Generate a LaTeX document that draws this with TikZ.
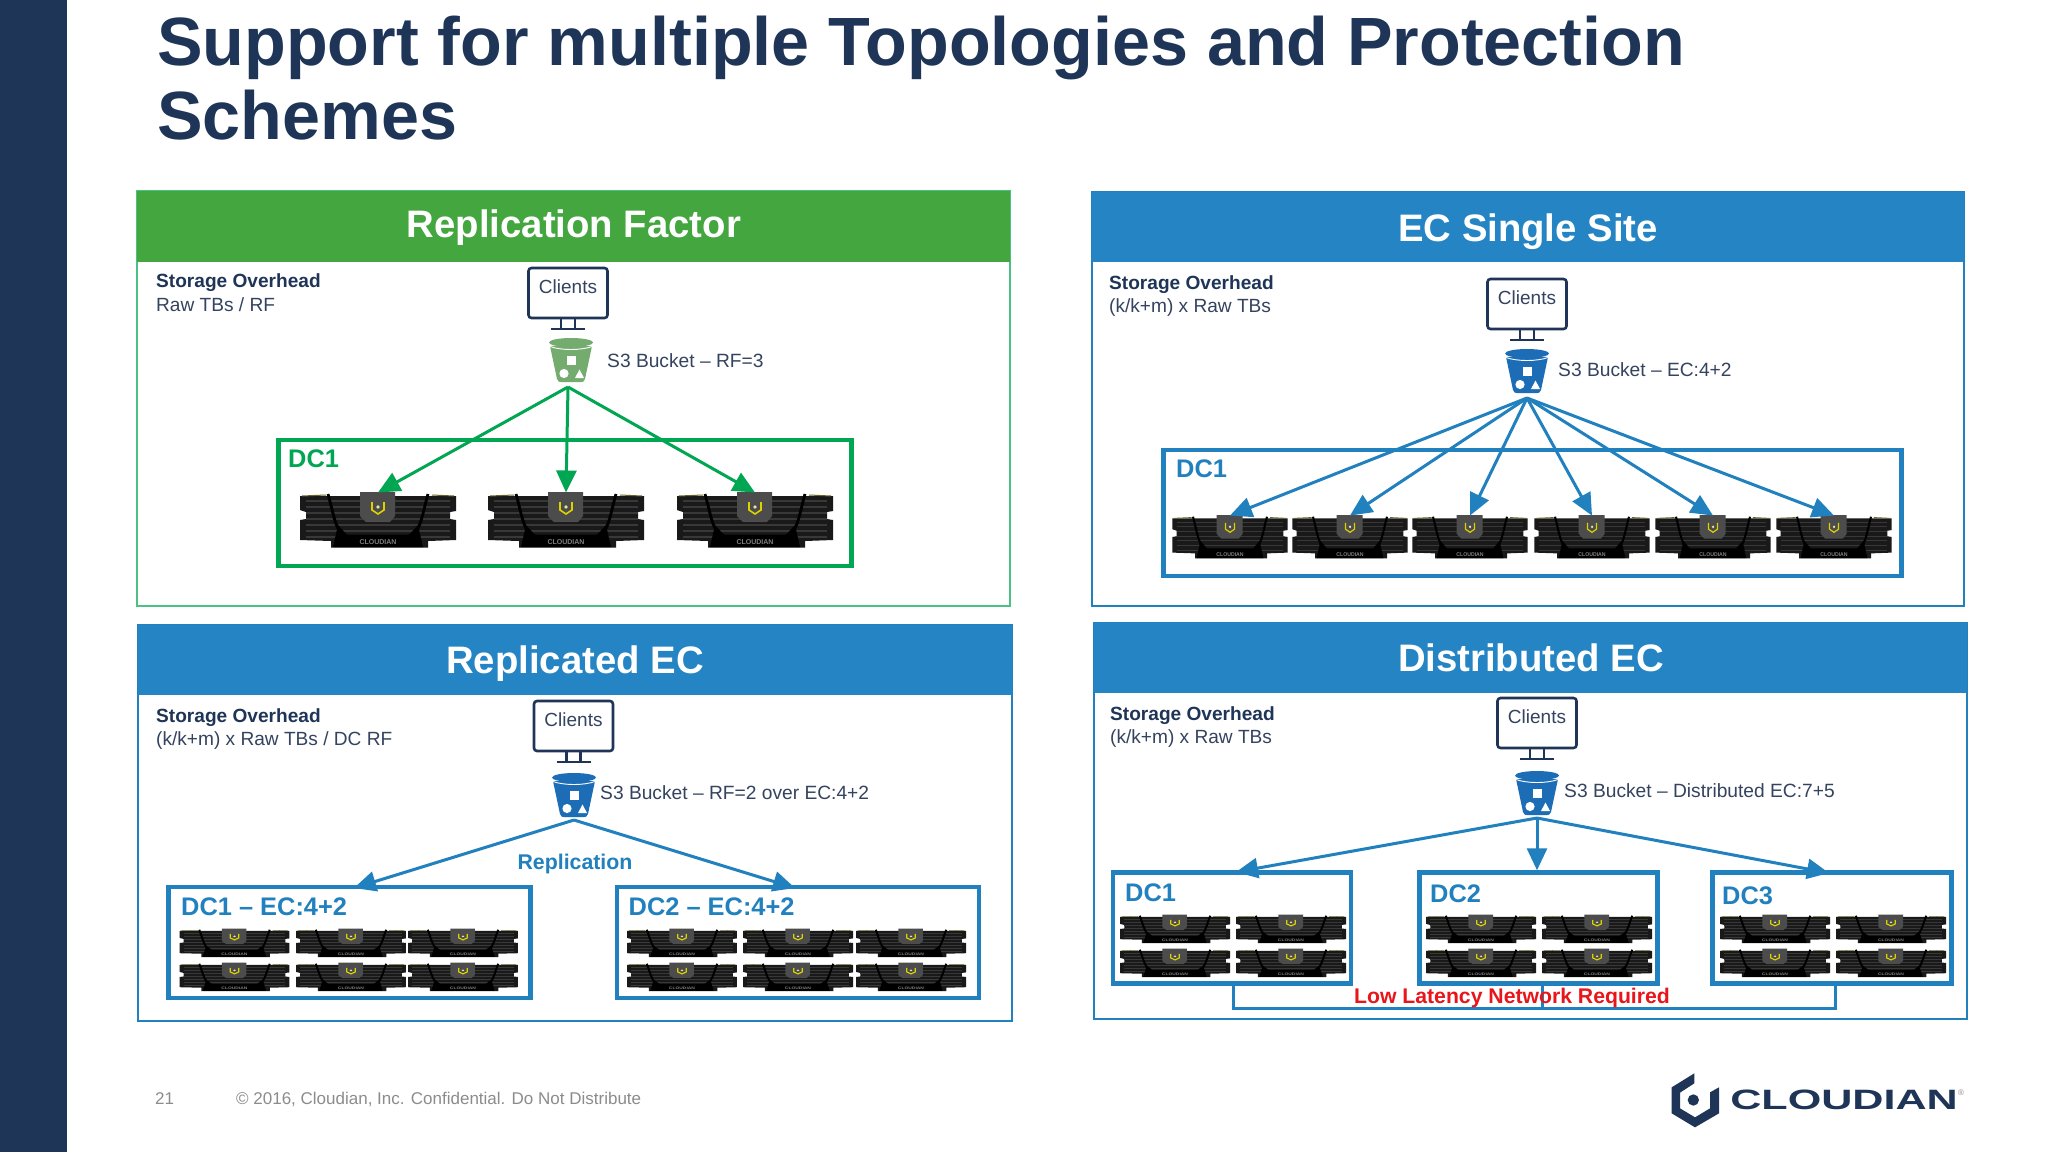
\documentclass[tikz,border=0pt]{standalone}
\usepackage{fontspec}
\setmainfont{Liberation Sans}
\usetikzlibrary{arrows.meta}
\definecolor{navy}{HTML}{1F3557}
\definecolor{slate}{HTML}{34435F}
\definecolor{hblue}{HTML}{2585C4}
\definecolor{lblue}{HTML}{2180BE}
\definecolor{hgreen}{HTML}{43A63F}
\definecolor{lgreen}{HTML}{00A651}
\definecolor{bgreen}{HTML}{74AC70}
\definecolor{bblue}{HTML}{1C6DB6}
\definecolor{lowred}{HTML}{E8151B}
\definecolor{footgrey}{HTML}{8C8C8C}
\tikzset{
  x=1pt,y=-1pt,
  panelbox/.style={draw=#1,line width=1.6pt,fill=white},
  headbar/.style={fill=#1,draw=none},
  headtext/.style={font=\bfseries\fontsize{38.3}{38}\selectfont,text=white,inner sep=0},
  ovtitle/.style={font=\bfseries\fontsize{19.1}{19}\selectfont,text=navy,anchor=west,inner sep=0},
  ovbody/.style={font=\fontsize{19.1}{19}\selectfont,text=slate,anchor=west,inner sep=0},
  bucketlabel/.style={font=\fontsize{19.2}{19}\selectfont,text=slate,anchor=west,inner sep=0},
  dclabel/.style={font=\bfseries\fontsize{25.4}{25}\selectfont,text=#1,anchor=west,inner sep=0},
  dcbox/.style={draw=#1,line width=4.5pt,inner sep=0},
  link/.style={draw=#1,line width=3pt,line join=miter,-{Triangle[length=22pt,width=20pt]}},
  hold/.style={inner sep=0,outer sep=0,draw=none},
}
% \server{name}{cx}{cy}{xscale}{yscale}
\newcommand{\server}[5]{%
  \node[hold,minimum width=#4*157pt,minimum height=#5*55pt] (#1) at (#2,#3) {};
  \begin{scope}[shift={(#2,#3)},x=#4*1pt,y=-#5*1pt]
    \fill[black!90] (-78,-24)--(78,-24)--(78,-9)--(72,-8)--(72,-1)--(78,0)--(78,20)--(50,21)--(50,27.5)--(-47,27.5)--(-47,21)--(-78,20)--(-78,0)--(-72,-1)--(-72,-8)--(-78,-10)--cycle;
    \foreach \yy in {-19,-13,-7,-1,5,11,17}
      \draw[black!78,line width=#5*1.1pt] (-72,\yy)--(72,\yy);
    \draw[black,line width=#4*2.8pt] (-50,-26) .. controls (-44,-5) and (-42,16) .. (-30,16)--(30,16) .. controls (42,16) and (44,-5) .. (50,-26);
    \fill[black] (-30,16)--(30,16)--(40,5)--(45,27)--(-45,27)--(-40,5)--cycle;
    \draw[olive!65!black,line width=#5*1pt] (-76,-24)--(-52,-25);
    \draw[olive!65!black,line width=#5*1pt] (54,-25)--(76,-24);
    \fill[black!70] (-18,-28)--(17,-28)--(17,-4)--(12,2)--(-12,2)--(-18,-4)--cycle;
    \draw[yellow!70!olive,line width=#4*1.6pt] (-6,-18)--(-6,-10)--(0,-6)--(6,-10)--(6,-18);
    \fill[white!75!olive] (0,-13) circle (1.8);
    \node[inner sep=0,xscale=#4,yscale=#5,text=black!50,font=\bfseries\fontsize{7}{7}\selectfont] at (0,22.5) {CLOUDIAN};
  \end{scope}}
% \bucket{name}{cx}{top}{colour}
\newcommand{\bucket}[4]{%
  \node[hold,minimum width=44pt,minimum height=44pt] (#1) at (#2,#3+22) {};
  \begin{scope}[shift={(#2,#3)}]
    \fill[#4] (-21,8)--(21,8)--(14,41) .. controls (13.5,44) and (11,44) .. (10,44)--(-10,44) .. controls (-11,44) and (-13.5,44) .. (-14,41)--cycle;
    \fill[#4] (0,4.5) ellipse (22 and 4.5);
    \draw[white,line width=.9pt] (-21,8.5) .. controls (-10,12.5) and (10,12.5) .. (21,8.5);
    \fill[white] (-4.5,17.5) rectangle (4.5,27);
    \fill[white] (-7,35.5) circle (4.6);
    \fill[white] (8.5,31.5)--(13,40)--(4,40)--cycle;
  \end{scope}}
% \monitor{name}{cx}{top}
\newcommand{\monitor}[3]{%
  \node[draw=navy,line width=2.6pt,rounded corners=3pt,fill=white,minimum width=79pt,minimum height=50pt,inner sep=0] (#1) at (#2,#3+25) {};
  \node[inner sep=0,text=slate,font=\fontsize{19}{19}\selectfont] at (#2,#3+18.5) {Clients};
  \draw[navy,line width=2.6pt] (#2-7,#3+50)--(#2-7,#3+61) (#2+7,#3+50)--(#2+7,#3+61);
  \draw[navy,line width=2.8pt] (#2-17,#3+61)--(#2+17,#3+61);}
\begin{document}
\begin{tikzpicture}
\path[use as bounding box,fill=white] (0,0) rectangle (2048,1152);
\fill[navy] (0,0) rectangle (67,1152);
\node[anchor=north west,inner sep=0,align=left,text=navy,font=\bfseries\fontsize{68.3}{74}\selectfont] (title) at (157,15.5) {Support for multiple Topologies and Protection\\Schemes};

% ---- Replication Factor
\draw[panelbox=lgreen!70!white] (137,191) rectangle (1010,606);
\fill[headbar=hgreen] (137,191) rectangle (1010,262);
\node[headtext] (h1) at (574,228) {Replication Factor};
\node[ovtitle] (o1a) at (156,282.5) {Storage Overhead};
\node[ovbody] (o1b) at (156,305) {Raw TBs / RF};
\monitor{m1}{568}{268}
\bucket{b1}{571}{338}{bgreen}
\node[bucketlabel] (l1) at (607,361) {S3 Bucket – RF=3};
\node[dcbox=lgreen,minimum width=573pt,minimum height=126pt] (d1) at (565,503) {};
\node[dclabel=lgreen] (dl1) at (288,459) {DC1};
\server{s11}{378}{520}{1}{1}
\server{s12}{566}{520}{1}{1}
\server{s13}{755}{520}{1}{1}
\coordinate (c1) at (568,387);
\draw[link=lgreen] (c1)--(s11.north);
\draw[link=lgreen] (c1)--(s12.north);
\draw[link=lgreen] (c1)--(s13.north);

% ---- EC Single Site
\draw[panelbox=lblue] (1092,192) rectangle (1964,606);
\fill[headbar=hblue] (1092,192) rectangle (1964,262);
\node[headtext] (h2) at (1528,232) {EC Single Site};
\node[ovtitle] (o2a) at (1109,284.5) {Storage Overhead};
\node[ovbody] (o2b) at (1109,308) {(k/k+m) x Raw TBs};
\monitor{m2}{1527}{279}
\bucket{b2}{1527}{349}{bblue}
\node[bucketlabel] (l2) at (1558,370) {S3 Bucket – EC:4+2};
\node[dcbox=lblue,minimum width=738pt,minimum height=126pt] (d2) at (1532.5,513) {};
\node[dclabel=lblue] (dl2) at (1176,469) {DC1};
\server{s21}{1230}{537}{0.74}{0.78}
\server{s22}{1350}{537}{0.74}{0.78}
\server{s23}{1470}{537}{0.74}{0.78}
\server{s24}{1592}{537}{0.74}{0.78}
\server{s25}{1713}{537}{0.74}{0.78}
\server{s26}{1834}{537}{0.74}{0.78}
\coordinate (c2) at (1527,398);
\foreach \t in {s21,s22,s23,s24,s25,s26}
  \draw[link=lblue] (c2)--(\t.north);

% ---- Replicated EC
\draw[panelbox=lblue] (138,625) rectangle (1012,1021);
\fill[headbar=hblue] (138,625) rectangle (1012,695);
\node[headtext] (h3) at (575,664) {Replicated EC};
\node[ovtitle] (o3a) at (156,717.5) {Storage Overhead};
\node[ovbody] (o3b) at (156,740.5) {(k/k+m) x Raw TBs / DC RF};
\monitor{m3}{573.5}{701}
\bucket{b3}{574}{773}{bblue}
\node[bucketlabel] (l3) at (600,793) {S3 Bucket – RF=2 over EC:4+2};
\node[font=\bfseries\fontsize{21.3}{22}\selectfont,text=lblue,inner sep=0] (rep) at (575,863.5) {Replication};
\node[dcbox=lblue,minimum width=362pt,minimum height=111pt] (d31) at (349.5,942.5) {};
\node[dcbox=lblue,minimum width=362pt,minimum height=111pt] (d32) at (798,942.5) {};
\node[dclabel=lblue] (dl31) at (181,907) {DC1 – EC:4+2};
\node[dclabel=lblue] (dl32) at (628.5,907) {DC2 – EC:4+2};
\foreach \xa/\xb/\xc/\p in {234.5/351/463/a,682/798/911/b}{
  \server{s3\p1}{\xa}{943}{0.705}{0.51}
  \server{s3\p2}{\xb}{943}{0.705}{0.51}
  \server{s3\p3}{\xc}{943}{0.705}{0.51}
  \server{s3\p4}{\xa}{977}{0.705}{0.51}
  \server{s3\p5}{\xb}{977}{0.705}{0.51}
  \server{s3\p6}{\xc}{977}{0.705}{0.51}
}
\coordinate (c3) at (574,820);
\coordinate (t31) at (354,888);
\coordinate (t32) at (795,888);
\draw[link=lblue] (c3)--(t31);
\draw[link=lblue] (c3)--(t32);

% ---- Distributed EC
\draw[panelbox=lblue] (1094,623) rectangle (1967,1019);
\fill[headbar=hblue] (1094,623) rectangle (1967,693);
\node[headtext] (h4) at (1531,658) {Distributed EC};
\node[ovtitle] (o4a) at (1110,716) {Storage Overhead};
\node[ovbody] (o4b) at (1110,739) {(k/k+m) x Raw TBs};
\monitor{m4}{1537}{698}
\bucket{b4}{1537}{771}{bblue}
\node[bucketlabel] (l4) at (1564,791) {S3 Bucket – Distributed EC:7+5};
\node[dcbox=lblue,minimum width=238pt,minimum height=111pt] (d41) at (1232,928) {};
\node[dcbox=lblue,minimum width=238pt,minimum height=111pt] (d42) at (1538.5,928) {};
\node[dcbox=lblue,minimum width=239pt,minimum height=111pt] (d43) at (1832,928) {};
\node[dclabel=lblue] (dl41) at (1125,893) {DC1};
\node[dclabel=lblue] (dl42) at (1430,894) {DC2};
\node[dclabel=lblue] (dl43) at (1722,896) {DC3};
\foreach \xa/\xb/\p in {1175/1291/a,1481/1597/b,1775/1891/c}{
  \server{s4\p1}{\xa}{929}{0.705}{0.51}
  \server{s4\p2}{\xb}{929}{0.705}{0.51}
  \server{s4\p3}{\xa}{963}{0.705}{0.51}
  \server{s4\p4}{\xb}{963}{0.705}{0.51}
}
\coordinate (c4) at (1537,818);
\coordinate (t41) at (1236,872);
\coordinate (t43) at (1829,873);
\draw[link=lblue] (c4)--(t41);
\draw[link=lblue] (c4)--(d42.north -| c4);
\draw[link=lblue] (c4)--(t43);
\coordinate (n1) at (1233,1008);
\coordinate (n3) at (1835,1008);
\draw[lblue,line width=3pt] (n1 |- d41.south)--(n1)--(n3)--(n3 |- d43.south);
\draw[lblue,line width=3pt] (1542,984)--(1542,1008);
\node[font=\bfseries\fontsize{21.2}{22}\selectfont,text=lowred,inner sep=0] (low) at (1512,998) {Low Latency Network Required};

% ---- Footer
\node[anchor=west,inner sep=0,text=footgrey,font=\fontsize{17}{17}\selectfont] (pg) at (155,1099) {21};
\node[anchor=west,inner sep=0,text=footgrey,font=\fontsize{17}{17}\selectfont] (cp) at (236,1099) {© 2016, Cloudian, Inc. Confidential. Do Not Distribute};
\begin{scope}[shift={(1650,1060)},x=0.3333pt,y=-0.3333pt]
  \fill[navy] (133,40)--(65,82)--(65,160)--(135,202)--(207,160)--(207,82)--(180,97)--(180,145)--(135,172)--(90,145)--(90,98)--(133,70)--cycle;
  \fill[navy] (130,120) circle (17);
\end{scope}
\node[anchor=west,inner sep=0,text=navy,xscale=1.54,font=\bfseries\fontsize{28}{28}\selectfont] (lg) at (1730,1100) {CLOUDIAN};
\node[inner sep=0,text=footgrey,font=\fontsize{8}{8}\selectfont] (rg) at (1961,1093) {®};
\end{tikzpicture}
\end{document}
